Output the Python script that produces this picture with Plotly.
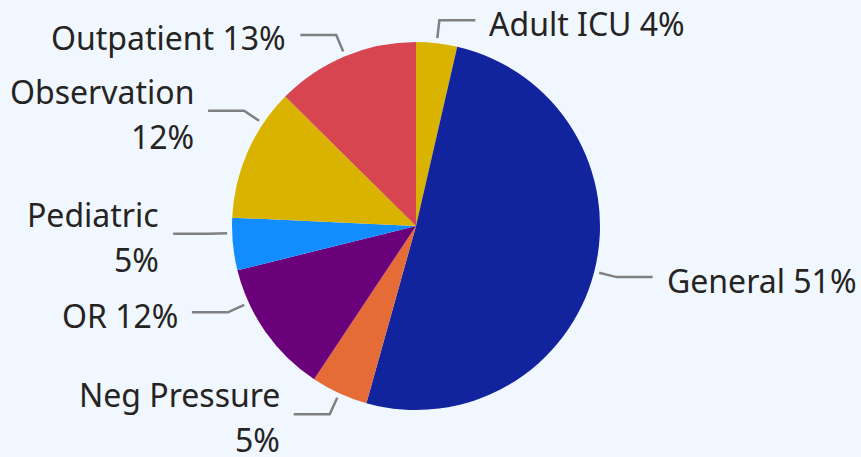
import math
import plotly.graph_objects as go

# ---- data ----
categories = ["Adult ICU", "General", "Neg Pressure", "OR", "Pediatric", "Observation", "Outpatient"]
values = [3.6, 50.8, 5.0, 11.8, 4.6, 11.7, 12.6]
colors = ["#D9B300", "#12239E", "#E66C37", "#6B007B", "#118DFF", "#D9B300", "#D64550"]

# ---- layout / style ----
W, H = 861, 457
CX, CY, R = 416, 226, 184
R1, R2, HSEG, GAP = 189, 207, 36, 12
FONT = "Noto Sans"
FS = 32
TEXT_COLOR = "#252423"
LINE_COLOR = "#808080"
BG = "#F1F7FE"
TEXT_DY = 3          # cap centre sits a bit below the leader line
LINE_STEP = 45       # spacing of two-line labels
wrap = {"Observation", "Pediatric", "Neg Pressure"}
angle_nudge = {"OR": 10.5, "Pediatric": 3.5, "Observation": 10.2}


def px(x):
    return x / W


def py(y):
    return 1 - y / H


fig = go.Figure()
fig.add_trace(go.Pie(
    labels=categories, values=values, sort=False, direction="clockwise", rotation=0,
    marker=dict(colors=colors, line=dict(width=0)),
    textinfo="none", hoverinfo="label+percent", showlegend=False,
    domain=dict(x=[(CX - R) / W, (CX + R) / W], y=[(H - CY - R) / H, (H - CY + R) / H]),
))

total = sum(values)
start = 0.0
shapes, annotations = [], []
for cat, v in zip(categories, values):
    span = v / total * 360
    mid = start + span / 2 + angle_nudge.get(cat, 0)
    start += span
    t = math.radians(mid)
    sx, sy = CX + R1 * math.sin(t), CY - R1 * math.cos(t)
    ex, ey = CX + R2 * math.sin(t), CY - R2 * math.cos(t)
    right = math.sin(t) > 0
    hx = ex + HSEG if right else ex - HSEG
    shapes.append(dict(
        type="path", xref="paper", yref="paper",
        path=f"M {px(sx)},{py(sy)} L {px(ex)},{py(ey)} L {px(hx)},{py(ey)}",
        line=dict(color=LINE_COLOR, width=2.5),
    ))
    pct = int(v / total * 100 + 0.5)
    tx = hx + GAP if right else hx - GAP
    anchor = "left" if right else "right"
    if cat in wrap:
        lines = [(cat, ey + TEXT_DY - LINE_STEP / 2), (f"{pct}%", ey + TEXT_DY + LINE_STEP / 2)]
    else:
        lines = [(f"{cat} {pct}%", ey + TEXT_DY)]
    for txt, yy in lines:
        annotations.append(dict(
            x=px(tx), y=py(yy), xref="paper", yref="paper", text=txt,
            showarrow=False, xanchor=anchor, yanchor="middle",
            font=dict(family=FONT, size=FS, color=TEXT_COLOR),
        ))

fig.update_layout(
    width=W, height=H, margin=dict(l=0, r=0, t=0, b=0),
    paper_bgcolor=BG, plot_bgcolor=BG,
    shapes=shapes, annotations=annotations, showlegend=False,
)
fig.write_html(
    "out.html",
    config={"displayModeBar": False},
    post_script=f"document.body.style.margin='0';document.body.style.background='{BG}';",
)
